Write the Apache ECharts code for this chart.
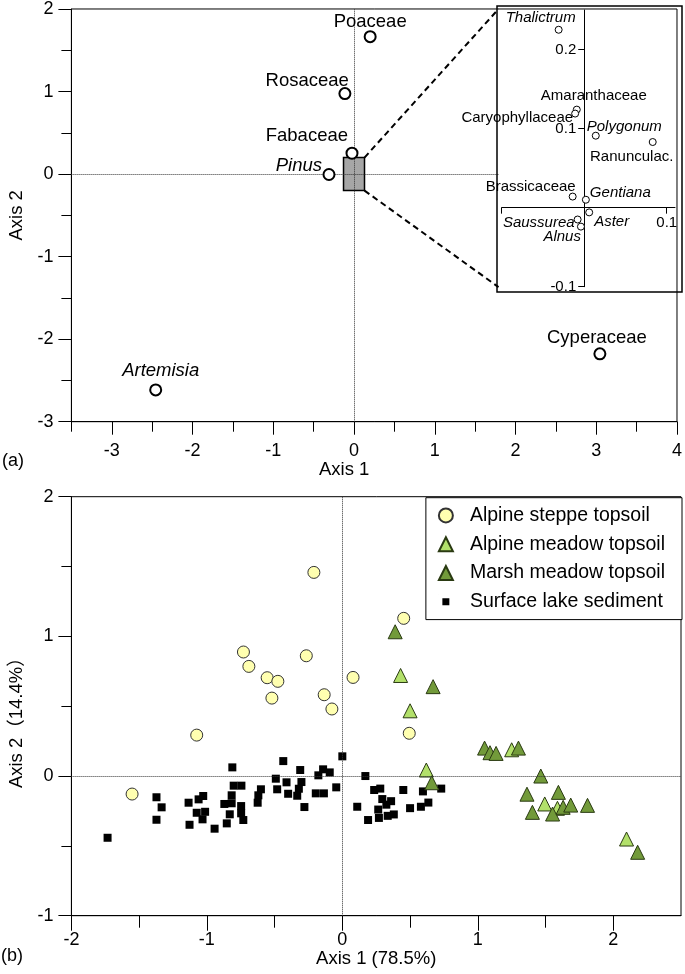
<!DOCTYPE html>
<html>
<head>
<meta charset="utf-8">
<script src="https://cdn.jsdelivr.net/npm/echarts@6/dist/echarts.min.js"></script>
<style>
html,body{margin:0;padding:0;background:#fff;}
#chart{width:685px;height:974px;}
</style>
</head>
<body>
<div id="chart"></div>
<script>
// ---------- Panel (a): taxa scores ----------
const mainTaxa  = ['Poaceae', 'Rosaceae', 'Fabaceae', 'Pinus', 'Artemisia', 'Cyperaceae'];
const mainAxis1 = [0.20, -0.113, -0.025, -0.31, -2.456, 3.045];
const mainAxis2 = [1.665, 0.975, 0.253, -0.005, -2.615, -2.178];

const insetTaxa  = ['Thalictrum', 'Amaranthaceae', 'Caryophyllaceae', 'Polygonum', 'Ranunculac.',
                    'Brassicaceae', 'Gentiana', 'Aster', 'Saussurea', 'Alnus'];
const insetAxis1 = [-0.031, -0.009, -0.011, 0.014, 0.083, -0.014, 0.002, 0.006, -0.008, -0.004];
const insetAxis2 = [0.225, 0.124, 0.119, 0.091, 0.083, 0.014, 0.010, -0.006, -0.015, -0.024];

const italicTaxa = ['Pinus', 'Artemisia', 'Thalictrum', 'Polygonum', 'Gentiana', 'Aster', 'Saussurea', 'Alnus'];

const topXTicks = [-3, -2, -1, 0, 1, 2, 3, 4];
const topXHalfTicks = [-3.5, -2.5, -1.5, -0.5, 0.5, 1.5, 2.5, 3.5];
const insetXRange = [-0.1, 0.11];
const insetYRange = [-0.1, 0.25];
const insetXTicks = [-0.1, 0.1];
const insetXLabels = [0.1];
const insetYTicks = [-0.1, 0.1, 0.2];

// zoom box and inset corner (data units of panel a)
const zoomBox = [[-0.13, -0.2], [0.13, 0.2]];
const insetCornerTop = [1.79, 2.0];
const insetCornerBottom = [1.79, -1.37];

// ---------- Panel (b): sample scores ----------
const seriesNames = ['Alpine steppe topsoil', 'Alpine meadow topsoil', 'Marsh meadow topsoil', 'Surface lake sediment'];

const alpineSteppe = [
  [-0.21, 1.458], [0.453, 1.129], [-0.73, 0.888], [-0.266, 0.861], [-0.69, 0.785],
  [-0.555, 0.704], [-0.476, 0.678], [0.079, 0.706], [-0.134, 0.582], [-0.52, 0.558],
  [-0.077, 0.48], [-1.075, 0.293], [0.494, 0.306], [-1.552, -0.129]
];
const alpineMeadow = [
  [0.43, 0.72], [0.50, 0.467], [1.25, 0.188], [0.62, 0.043], [1.494, -0.20],
  [1.588, -0.231], [2.098, -0.451]
];
const marshMeadow = [
  [0.39, 1.033], [0.67, 0.64], [1.05, 0.20], [1.09, 0.167], [1.135, 0.162], [1.30, 0.20],
  [0.66, -0.048], [1.465, 0.0], [1.363, -0.13], [1.595, -0.117], [1.403, -0.26],
  [1.552, -0.272], [1.63, -0.224], [1.686, -0.208], [1.81, -0.21], [2.18, -0.546]
];
const lakeSediment = [
  [-1.733, -0.442], [-1.372, -0.152], [-1.334, -0.224], [-1.372, -0.313], [-1.135, -0.191],
  [-1.061, -0.167], [-1.027, -0.143], [-1.075, -0.263], [-1.013, -0.256], [-1.032, -0.31],
  [-1.128, -0.349], [-0.943, -0.377], [-0.812, 0.062], [-0.802, -0.069], [-0.745, -0.069],
  [-0.817, -0.138], [-0.871, -0.20], [-0.817, -0.195], [-0.747, -0.215], [-0.831, -0.274],
  [-0.747, -0.267], [-0.731, -0.315], [-0.853, -0.339], [-0.601, -0.095], [-0.62, -0.138],
  [-0.625, -0.191], [-0.436, 0.107], [-0.491, -0.019], [-0.481, -0.095], [-0.412, -0.045],
  [-0.40, -0.127], [-0.311, 0.043], [-0.302, -0.043], [-0.321, -0.091], [-0.333, -0.141],
  [-0.28, -0.222], [-0.177, 0.005], [-0.142, 0.048], [-0.093, 0.026], [-0.196, -0.124],
  [-0.136, -0.124], [-0.045, -0.081], [0.0, 0.141],
  [0.11, -0.22], [0.17, 0.0], [0.19, -0.315], [0.235, -0.10], [0.28, -0.09], [0.265, -0.24],
  [0.295, -0.165], [0.325, -0.205], [0.27, -0.30], [0.335, -0.285], [0.36, -0.18],
  [0.38, -0.275], [0.45, -0.10], [0.50, -0.23], [0.58, -0.22], [0.595, -0.11],
  [0.635, -0.19], [0.73, -0.09]
];
const bottomXTicks = [-2, -1, 0, 1, 2];
const bottomXHalfTicks = [-1.5, -0.5, 0.5, 1.5];

// ---------- label placement (anchor offsets, style only) ----------
const mainLabelPlace = {
  'Poaceae':    ['center', 0, -15],
  'Rosaceae':   ['right', 4, -13],
  'Fabaceae':   ['right', -4, -17],
  'Pinus':      ['right', -7, -9],
  'Artemisia':  ['center', 5, -19],
  'Cyperaceae': ['center', -3, -16]
};
const insetLabelPlace = {
  'Thalictrum':      ['right', 17, -12],
  'Amaranthaceae':   ['center', 17, -14],
  'Caryophyllaceae': ['right', -2, 4],
  'Polygonum':       ['left', -9, -9],
  'Ranunculac.':     ['center', -21, 15],
  'Brassicaceae':    ['right', 3, -10],
  'Gentiana':        ['left', 4, -7],
  'Aster':           ['left', 5, 9],
  'Saussurea':       ['right', -3, 3],
  'Alnus':           ['right', 0, 10]
};

const FONT = "'Liberation Sans', Arial, 'Noto Sans CJK SC', sans-serif";
const BLACK = '#000';

function labelled(names, xs, ys, place, fontSize) {
  return names.map((n, i) => {
    const p = place[n];
    return {
      name: n,
      value: [xs[i], ys[i]],
      label: {
        show: true, formatter: '{b}', position: 'inside',
        align: p[0], verticalAlign: 'middle', offset: [p[1], p[2]],
        fontSize: fontSize, fontFamily: FONT, color: BLACK,
        fontStyle: italicTaxa.indexOf(n) >= 0 ? 'italic' : 'normal'
      }
    };
  });
}

// inset grid geometry
const insetGrid = {left: 501.7, top: 10, width: 173.3, height: 276.7};
// axes cross at zero inside the inset: shift them from the grid edges to the zero position
const insetYAxisShift = -(0 - insetXRange[0]) / (insetXRange[1] - insetXRange[0]) * insetGrid.width;
const insetXAxisShift = -(0 - insetYRange[0]) / (insetYRange[1] - insetYRange[0]) * insetGrid.height;

const chart = echarts.init(document.getElementById('chart'), null, {renderer: 'canvas'});

const axisLineStyle = {color: BLACK, width: 1};
const labelStyle = {color: BLACK, fontSize: 18, fontFamily: FONT};
const nameStyle = {color: BLACK, fontSize: 18.5, fontFamily: FONT};

const option = {
  animation: false,
  backgroundColor: '#fff',
  textStyle: {fontFamily: FONT},
  title: [
    {text: '(a)', left: 2, top: 452, padding: 0, textStyle: {fontSize: 18, fontWeight: 'normal', color: BLACK, fontFamily: FONT}},
    {text: '(b)', left: 1, top: 947, padding: 0, textStyle: {fontSize: 18, fontWeight: 'normal', color: BLACK, fontFamily: FONT}}
  ],
  grid: [
    {left: 54, top: 6, width: 628, height: 415.7, show: true, borderColor: BLACK, borderWidth: 1, containLabel: false},
    Object.assign({show: false, containLabel: false}, insetGrid),
    {left: 54, top: 496.7, width: 627, height: 419, show: true, borderColor: BLACK, borderWidth: 1, containLabel: false}
  ],
  graphic: [
    {type: 'rect', shape: {x: 497, y: 6, width: 185, height: 286}, style: {fill: 'none', stroke: BLACK, lineWidth: 1.5}, z: 10, silent: true}
  ],
  legend: {
    data: [
      {name: seriesNames[0]},
      {name: seriesNames[1]},
      {name: seriesNames[2]},
      {name: seriesNames[3], icon: 'path://M0,0h0.05v0.05h-0.05z M3.5,3.5h7v7h-7z M14,14h0.05v0.05h-0.05z'}
    ],
    orient: 'vertical', right: 3, top: 497.7,
    backgroundColor: '#fff', borderColor: BLACK, borderWidth: 1, borderRadius: 0,
    padding: [8, 17, 8, 12], itemGap: 9.3, itemWidth: 14, itemHeight: 14,
    textStyle: {fontSize: 19.5, lineHeight: 18, color: BLACK, fontFamily: FONT, padding: [0, 0, 0, 12]},
    selectedMode: false
  },
  xAxis: [
    { gridIndex: 0, type: 'value', min: -3.5, max: 4, position: 'bottom',
      axisLine: {onZero: false, lineStyle: axisLineStyle},
      axisTick: {customValues: topXTicks, length: 13, lineStyle: axisLineStyle},
      axisLabel: Object.assign({customValues: topXTicks, margin: 20}, labelStyle),
      splitLine: {show: false},
      name: 'Axis 1', nameLocation: 'middle', nameGap: 34,
      nameTextStyle: Object.assign({padding: [0, 60, 0, 0]}, nameStyle) },
    { gridIndex: 0, type: 'value', min: -3.5, max: 4, position: 'bottom',
      axisLine: {show: false, onZero: false},
      axisTick: {customValues: topXHalfTicks, length: 10, lineStyle: axisLineStyle},
      axisLabel: {show: false}, splitLine: {show: false} },
    { gridIndex: 1, type: 'value', min: insetXRange[0], max: insetXRange[1], position: 'bottom',
      offset: insetXAxisShift,
      axisLine: {onZero: false, lineStyle: axisLineStyle},
      axisTick: {customValues: insetXTicks, length: 6, lineStyle: axisLineStyle},
      axisLabel: {customValues: insetXLabels, margin: 8, color: BLACK, fontSize: 15, fontFamily: FONT},
      splitLine: {show: false}, z: 12 },
    { gridIndex: 2, type: 'value', min: -2, max: 2.5, position: 'bottom',
      axisLine: {onZero: false, lineStyle: axisLineStyle},
      axisTick: {customValues: bottomXTicks, length: 15, lineStyle: axisLineStyle},
      axisLabel: Object.assign({customValues: bottomXTicks, margin: 15}, labelStyle),
      splitLine: {show: false},
      name: 'Axis 1 (78.5%)', nameLocation: 'middle', nameGap: 33, nameTextStyle: nameStyle },
    { gridIndex: 2, type: 'value', min: -2, max: 2.5, position: 'bottom',
      axisLine: {show: false, onZero: false},
      axisTick: {customValues: bottomXHalfTicks, length: 12, lineStyle: axisLineStyle},
      axisLabel: {show: false}, splitLine: {show: false} }
  ],
  yAxis: [
    { gridIndex: 0, type: 'value', min: -3, max: 2, interval: 1,
      axisLine: {onZero: false, lineStyle: axisLineStyle},
      axisTick: {length: 13, lineStyle: axisLineStyle},
      minorTick: {show: true, splitNumber: 2, length: 10, lineStyle: axisLineStyle},
      axisLabel: Object.assign({margin: 18}, labelStyle),
      splitLine: {show: false}, minorSplitLine: {show: false},
      name: 'Axis 2', nameLocation: 'middle', nameGap: 32, nameTextStyle: nameStyle },
    { gridIndex: 1, type: 'value', min: insetYRange[0], max: insetYRange[1], position: 'left',
      offset: insetYAxisShift,
      axisLine: {onZero: false, lineStyle: axisLineStyle},
      axisTick: {customValues: insetYTicks, length: 6, lineStyle: axisLineStyle},
      axisLabel: {customValues: insetYTicks, margin: 8, color: BLACK, fontSize: 15, fontFamily: FONT},
      splitLine: {show: false}, z: 12 },
    { gridIndex: 2, type: 'value', min: -1, max: 2, interval: 1,
      axisLine: {onZero: false, lineStyle: axisLineStyle},
      axisTick: {length: 13, lineStyle: axisLineStyle},
      minorTick: {show: true, splitNumber: 2, length: 10, lineStyle: axisLineStyle},
      axisLabel: Object.assign({margin: 18}, labelStyle),
      splitLine: {show: false}, minorSplitLine: {show: false},
      name: 'Axis 2（14.4%）', nameLocation: 'middle', nameGap: 32,
      nameTextStyle: Object.assign({padding: [0, 24, 0, 0]}, nameStyle) }
  ],
  series: [
    { name: 'taxa', type: 'scatter', xAxisIndex: 0, yAxisIndex: 0, z: 5,
      symbol: 'circle', symbolSize: 11,
      itemStyle: {color: '#fff', borderColor: BLACK, borderWidth: 2, opacity: 1},
      data: labelled(mainTaxa, mainAxis1, mainAxis2, mainLabelPlace, 18.5),
      markArea: {
        silent: true,
        itemStyle: {color: '#A6A6A6', borderColor: BLACK, borderWidth: 1.5, opacity: 1},
        data: [[{coord: zoomBox[0]}, {coord: zoomBox[1]}]]
      },
      markLine: {
        silent: true, symbol: 'none', label: {show: false}, animation: false,
        data: [
          [{coord: [0, -3], lineStyle: {type: 'dotted', color: '#333', width: 1}}, {coord: [0, 2]}],
          [{coord: [-3.5, 0], lineStyle: {type: 'dotted', color: '#333', width: 1}}, {coord: [insetCornerTop[0], 0]}],
          [{coord: [zoomBox[1][0], zoomBox[1][1]], lineStyle: {type: [6, 4], color: BLACK, width: 2}}, {coord: insetCornerTop}],
          [{coord: [zoomBox[1][0], zoomBox[0][1]], lineStyle: {type: [6, 4], color: BLACK, width: 2}}, {coord: insetCornerBottom}]
        ]
      }
    },
    { name: 'inset taxa', type: 'scatter', xAxisIndex: 2, yAxisIndex: 1, z: 12,
      symbol: 'circle', symbolSize: 7,
      itemStyle: {color: '#fff', borderColor: BLACK, borderWidth: 1, opacity: 1},
      data: labelled(insetTaxa, insetAxis1, insetAxis2, insetLabelPlace, 15)
    },
    { name: seriesNames[3], type: 'scatter', xAxisIndex: 3, yAxisIndex: 2, z: 3,
      symbol: 'rect', symbolSize: 8,
      itemStyle: {color: '#000', opacity: 1},
      data: lakeSediment,
      markLine: {
        silent: true, symbol: 'none', label: {show: false}, animation: false,
        lineStyle: {type: 'dotted', color: '#333', width: 1},
        data: [{xAxis: 0}, {yAxis: 0}]
      }
    },
    { name: seriesNames[0], type: 'scatter', xAxisIndex: 3, yAxisIndex: 2, z: 4,
      symbol: 'circle', symbolSize: 12,
      itemStyle: {color: '#FFFFB0', borderColor: '#333', borderWidth: 1, opacity: 1},
      data: alpineSteppe },
    { name: seriesNames[1], type: 'scatter', xAxisIndex: 3, yAxisIndex: 2, z: 4,
      symbol: 'triangle', symbolSize: 14,
      itemStyle: {color: '#B2E06A', borderColor: '#2a3a12', borderWidth: 1, opacity: 1},
      data: alpineMeadow },
    { name: seriesNames[2], type: 'scatter', xAxisIndex: 3, yAxisIndex: 2, z: 4,
      symbol: 'triangle', symbolSize: 14,
      itemStyle: {color: '#729A3A', borderColor: '#2a3a12', borderWidth: 1, opacity: 1},
      data: marshMeadow }
  ]
};
chart.setOption(option);
</script>
</body>
</html>
